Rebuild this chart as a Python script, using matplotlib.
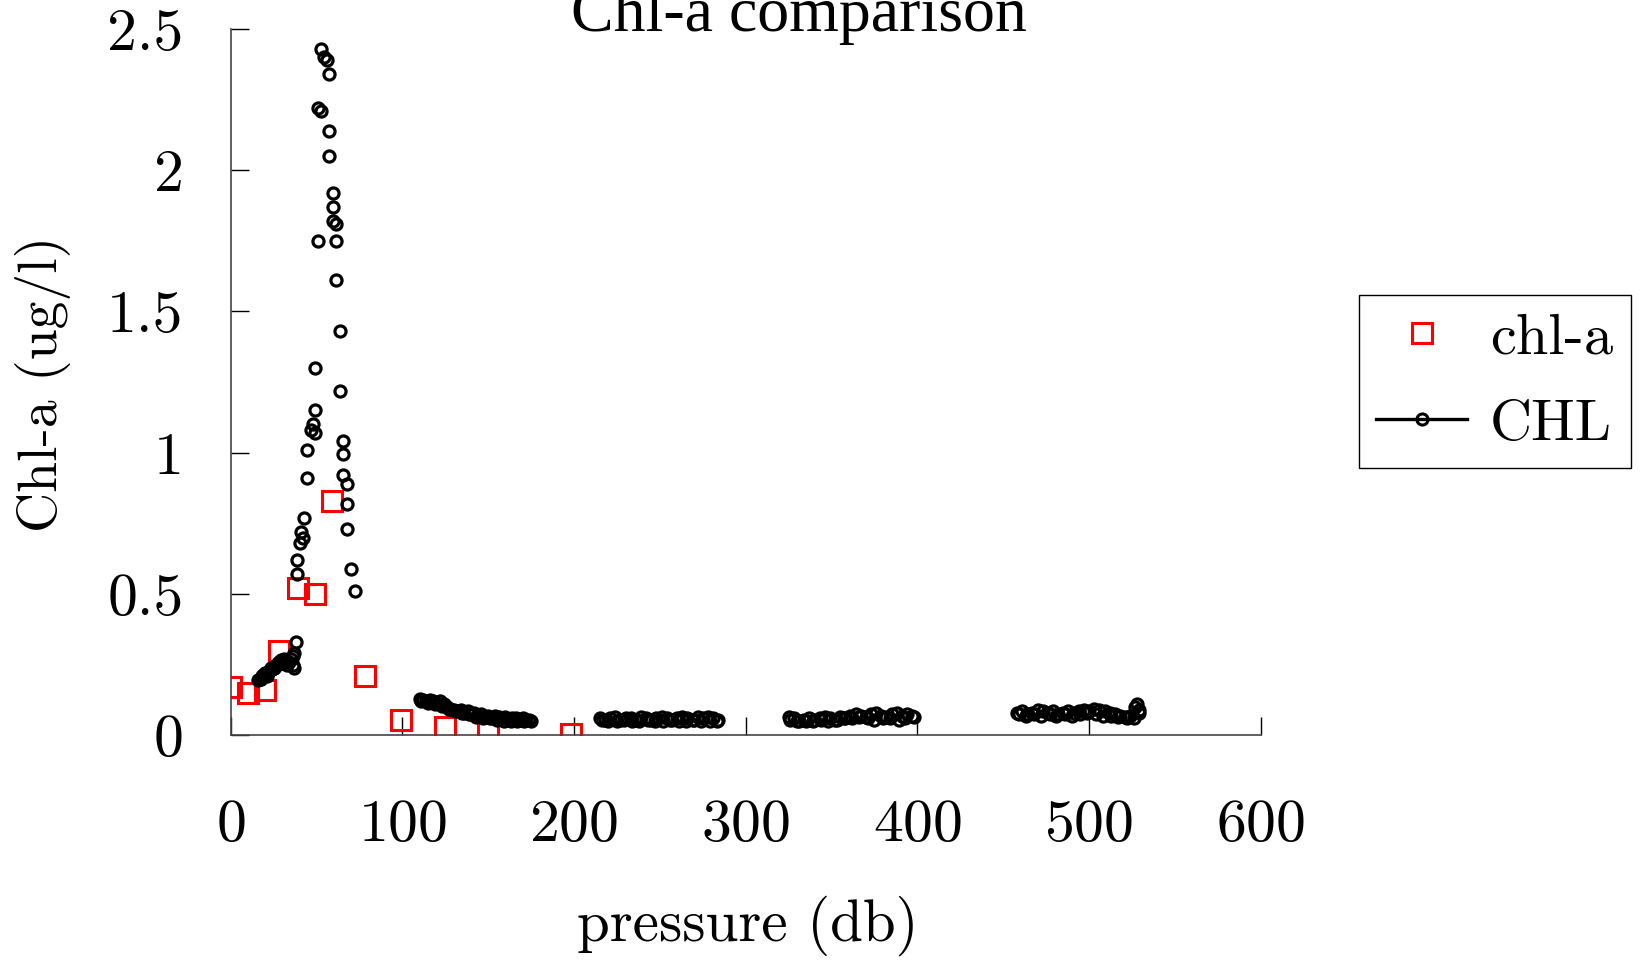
import matplotlib.pyplot as plt
from matplotlib.lines import Line2D

plt.rcParams['font.family'] = 'cmr10'
plt.rcParams['axes.formatter.use_mathtext'] = True

# bottle samples (red squares)
chla_p = [0, 10, 20, 28, 39, 49, 59, 78, 99, 125, 150, 198]
chla_v = [0.17, 0.15, 0.16, 0.30, 0.52, 0.50, 0.83, 0.21, 0.055, 0.03, 0.015, 0.006]

# CTD fluorometer (black circles)
chl_p = [
    # shallow cluster
    16, 17, 18, 19, 20, 21, 22, 23, 24, 25, 26, 27, 28, 29, 30, 31, 32, 33, 34, 35,
    36, 37, 37, 38, 36, 17.5, 19.5, 21.5, 23.5, 25.5, 27.5, 29.5, 31.5,
    # peak
    52.7, 54.5, 56.3, 57, 50.8, 52.7, 57, 57, 59.4, 59.4, 59.4, 61.2, 50.8, 61.2,
    61.2, 63.7, 49, 63.7, 49, 47.8, 47, 49, 65.5, 44.7, 65.5, 65.5, 44.7, 68, 68,
    42.9, 68, 41, 42.2, 40.4, 69.8, 38.6, 38.6, 72.2,
    # 110-175
    110, 112, 114, 116, 118, 120, 122, 124, 126, 128, 130, 132, 134, 136, 138, 140,
    142, 144, 146, 148, 150, 152, 154, 156, 158, 160, 162, 164, 166, 168, 170, 172, 174,
    111, 115, 119, 123, 127, 131, 135, 139, 143, 147, 151, 155, 159, 163, 167, 171, 175,
    # 215-285
    215, 218, 221, 224, 227, 230, 233, 236, 239, 242, 245, 248, 251, 254, 257, 260,
    263, 266, 269, 272, 275, 278, 281, 284,
    216, 220, 225, 229, 234, 238, 243, 247, 252, 256, 261, 265, 270, 274, 279, 283,
    # 325-400
    325, 328, 331, 334, 337, 340, 343, 346, 349, 352, 355, 358, 361, 364, 367, 370,
    373, 376, 379, 382, 385, 388, 391, 394, 397,
    326, 330, 335, 339, 344, 348, 353, 357, 362, 366, 371, 375, 380, 384, 389, 393, 398,
    # 455-530
    458, 461, 464, 467, 470, 473, 476, 479, 482, 485, 488, 491, 494, 497, 500, 503,
    506, 509, 512, 515, 518, 521, 524, 527, 528, 529,
    459, 463, 468, 472, 477, 481, 486, 490, 495, 499, 504, 508, 513, 517, 522, 526, 529,
]
chl_v = [
    0.195, 0.20, 0.21, 0.215, 0.22, 0.21, 0.225, 0.23, 0.235, 0.24, 0.245, 0.25, 0.26,
    0.265, 0.255, 0.27, 0.26, 0.25, 0.26, 0.27, 0.25, 0.24, 0.29, 0.33, 0.28,
    0.20, 0.215, 0.22, 0.24, 0.24, 0.255, 0.26, 0.265,
    2.43, 2.40, 2.39, 2.34, 2.22, 2.21, 2.14, 2.05, 1.92, 1.87, 1.82, 1.81, 1.75, 1.75,
    1.61, 1.43, 1.30, 1.22, 1.15, 1.10, 1.08, 1.07, 1.04, 1.01, 0.995, 0.92, 0.91, 0.89,
    0.82, 0.77, 0.73, 0.72, 0.70, 0.68, 0.59, 0.62, 0.57, 0.51,
    0.13, 0.125, 0.12, 0.125, 0.12, 0.115, 0.12, 0.11, 0.10, 0.095, 0.09, 0.085, 0.09,
    0.08, 0.085, 0.075, 0.08, 0.07, 0.075, 0.065, 0.07, 0.06, 0.07, 0.065, 0.06, 0.065,
    0.055, 0.06, 0.06, 0.055, 0.06, 0.055, 0.055,
    0.12, 0.115, 0.11, 0.105, 0.095, 0.085, 0.08, 0.075, 0.065, 0.06, 0.06, 0.055,
    0.05, 0.05, 0.05, 0.05, 0.05,
    0.06, 0.055, 0.06, 0.065, 0.055, 0.06, 0.06, 0.055, 0.065, 0.06, 0.055, 0.06, 0.065,
    0.06, 0.055, 0.06, 0.065, 0.06, 0.055, 0.065, 0.06, 0.065, 0.06, 0.055,
    0.055, 0.05, 0.05, 0.055, 0.05, 0.05, 0.055, 0.05, 0.05, 0.055, 0.05, 0.05, 0.055,
    0.05, 0.05, 0.05,
    0.065, 0.06, 0.05, 0.055, 0.06, 0.055, 0.06, 0.065, 0.06, 0.055, 0.065, 0.06, 0.07,
    0.075, 0.07, 0.065, 0.075, 0.08, 0.07, 0.065, 0.075, 0.08, 0.07, 0.075, 0.07,
    0.055, 0.05, 0.05, 0.05, 0.055, 0.05, 0.055, 0.06, 0.06, 0.065, 0.06, 0.055, 0.06,
    0.06, 0.055, 0.06, 0.065,
    0.08, 0.085, 0.075, 0.08, 0.09, 0.085, 0.08, 0.085, 0.075, 0.08, 0.085, 0.08,
    0.085, 0.09, 0.085, 0.095, 0.09, 0.085, 0.08, 0.075, 0.07, 0.065, 0.07, 0.1,
    0.11, 0.08,
    0.075, 0.07, 0.075, 0.07, 0.075, 0.07, 0.075, 0.07, 0.075, 0.08, 0.075, 0.07,
    0.07, 0.065, 0.06, 0.06, 0.09,
]

fig = plt.figure(figsize=(16.48, 9.6), dpi=100)
ax = fig.add_axes([0.140, 0.234, 0.625, 0.736])

ax.plot(chla_p, chla_v, linestyle='none', marker='s', markersize=14,
        markerfacecolor='none', markeredgecolor='red', markeredgewidth=2.2)
ax.plot(chl_p, chl_v, linestyle='none', marker='o', markersize=8,
        markerfacecolor='none', markeredgecolor='black', markeredgewidth=2.3)

ax.set_xlim(0, 600)
ax.set_ylim(0, 2.5)
ax.set_xticks([0, 100, 200, 300, 400, 500, 600])
ax.set_yticks([0, 0.5, 1, 1.5, 2, 2.5])
ax.set_yticklabels(['0', '0.5', '1', '1.5', '2', '2.5'])
ax.spines['top'].set_visible(False)
ax.spines['right'].set_visible(False)
for s in ('left', 'bottom'):
    ax.spines[s].set_color('#444444')
    ax.spines[s].set_linewidth(1.2)
ax.tick_params(axis='x', direction='in', length=13, width=1, labelsize=43, pad=46)
ax.tick_params(axis='y', direction='in', length=13, width=1, labelsize=43, pad=34)

fig.text(0.454, 0.004, 'pressure (db)', ha='center', va='bottom', fontsize=42.5)
fig.text(0.026, 0.60, 'Chl-a (ug/l)', rotation=90, ha='center', va='center', fontsize=40)
fig.text(0.485, 0.968, 'Chl-a comparison', ha='center', va='baseline', fontsize=46,
         family='Liberation Serif')

handles = [
    Line2D([], [], linestyle='none', marker='s', markersize=14, markerfacecolor='none',
           markeredgecolor='red', markeredgewidth=2.2),
    Line2D([], [], color='black', linewidth=2.4, marker='o', markersize=8,
           markerfacecolor='none', markeredgecolor='black', markeredgewidth=2.2),
]
leg = fig.legend(handles, ['chl-a', 'CHL'], loc='upper left',
                 bbox_to_anchor=(0.8246, 0.693), fontsize=42, fancybox=False,
                 framealpha=1, edgecolor='black', borderaxespad=0,
                 handlelength=1.55, borderpad=0.3, labelspacing=0.6, handletextpad=0.4)
leg.get_frame().set_linewidth(1.0)

fig.savefig('out.png', dpi=100)
